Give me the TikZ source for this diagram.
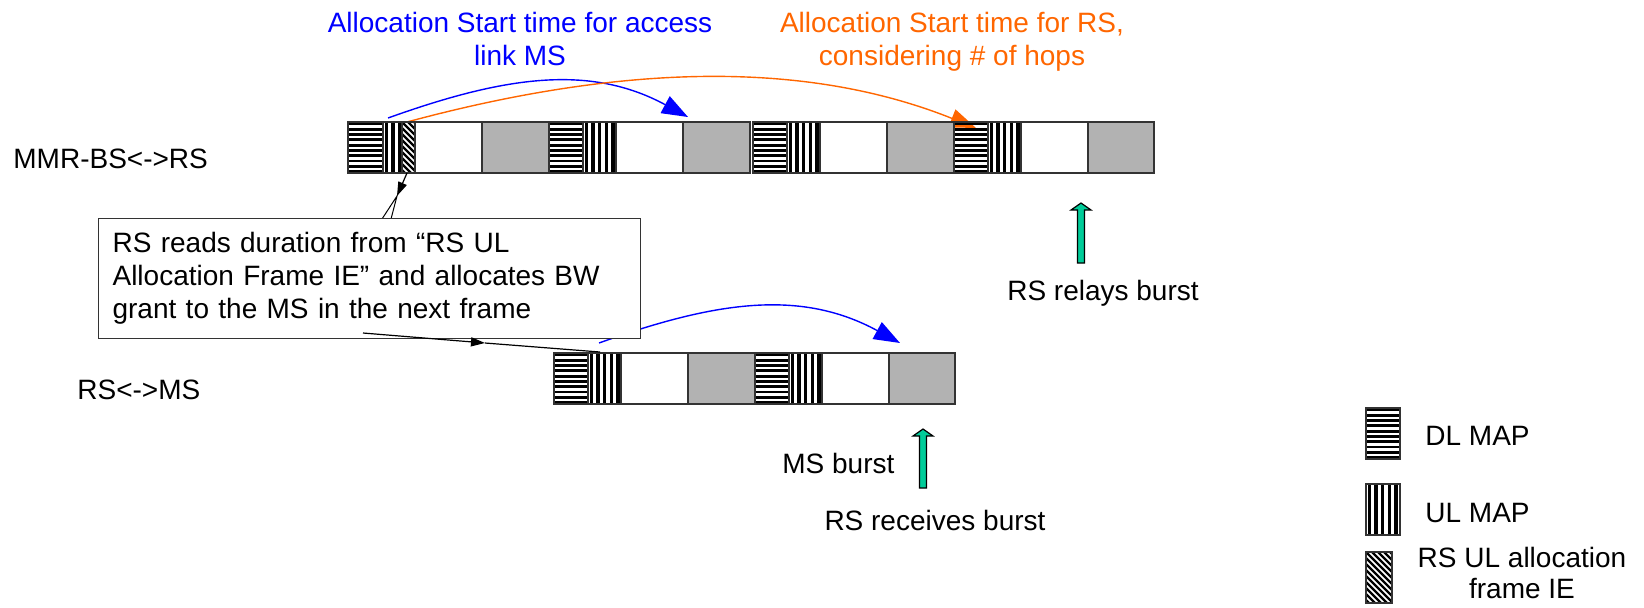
\documentclass[tikz,border=0pt]{standalone}
\usepackage{fontspec}
\setmainfont{Liberation Sans}
\usetikzlibrary{arrows.meta}

\definecolor{slotgray}{RGB}{178,178,178}
\definecolor{burstgreen}{RGB}{0,204,153}
\definecolor{hopsorange}{RGB}{255,102,0}

\tikzset{
  slot/.style={draw=black!80, line width=0.6pt},
  lbl/.style={font=\fontsize{14}{16.5}\selectfont, inner sep=0pt},
  msarc/.style={blue, line width=0.7pt, -{Triangle[length=13pt,width=9.5pt]}},
  rsarc/.style={hopsorange, line width=0.7pt, -{Triangle[length=13pt,width=9.5pt]}},
  ptr/.style={black, line width=0.6pt, -{Triangle[length=7pt,width=4.5pt]}},
  burst/.style={draw=black, line width=0.6pt, fill=burstgreen}
}

% striped slots: left x, top y, width (height 51)
\newcommand{\dlslot}[3]{%
  \begin{scope}
    \clip (#1,#2) rectangle ++(#3,51);
    \foreach \k in {0,...,9} \fill (#1,#2+0.5+\k*5.3) rectangle ++(#3,2.8);
  \end{scope}
  \draw[slot] (#1,#2) rectangle ++(#3,51);
}
\newcommand{\ulslot}[3]{%
  \begin{scope}
    \clip (#1,#2) rectangle ++(#3,51);
    \foreach \k in {0,...,5} \fill (#1+1.5+\k*6.7,#2) rectangle ++(3.3,51);
  \end{scope}
  \draw[slot] (#1,#2) rectangle ++(#3,51);
}
\newcommand{\ieslot}[3]{%
  \begin{scope}
    \clip (#1,#2) rectangle ++(#3,51);
    \foreach \k in {-10,...,5} \draw[line width=1.1pt] (#1+\k*6,#2) -- ++(60,60);
  \end{scope}
  \draw[slot] (#1,#2) rectangle ++(#3,51);
}
% one frame: DL, UL, idle, busy, DL, UL, idle, busy
\newcommand{\frameslots}[2]{%
  \dlslot{#1}{#2}{34} \ulslot{#1+34}{#2}{33}
  \draw[slot, fill=white] (#1+67,#2) rectangle ++(67,51);
  \draw[slot, fill=slotgray] (#1+134,#2) rectangle ++(67,51);
  \dlslot{#1+201}{#2}{34} \ulslot{#1+235}{#2}{33}
  \draw[slot, fill=white] (#1+268,#2) rectangle ++(67,51);
  \draw[slot, fill=slotgray] (#1+335,#2) rectangle ++(66,51);
}
% green burst arrow: centre x, tip y, tail y
\newcommand{\burstarrow}[3]{%
  \draw[burst] (#1-3.5,#3) -- (#1-3.5,#2+7) -- (#1-10,#2+7) -- (#1,#2)
    -- (#1+10,#2+7) -- (#1+3.5,#2+7) -- (#1+3.5,#3) -- cycle;
}

\begin{document}
\begin{tikzpicture}[x=0.5pt, y=-0.5pt]
\useasboundingbox (0,0) rectangle (1644,607);

% connector ends
\coordinate (msStart) at (388,118);
\coordinate (msEnd) at (688,117);
\coordinate (rsStart) at (407,122);
\coordinate (rsEnd) at (976,128);
\coordinate (accStart) at (599,343);
\coordinate (accEnd) at (900,343);
\coordinate (ieBottom) at (407,173);
\coordinate (callTip) at (397,196);
\coordinate (wedgeL) at (382,219);
\coordinate (wedgeR) at (391,219);
\coordinate (boxOut) at (363,333);
\coordinate (boxMid) at (485,343);
\coordinate (rsmsIn) at (600,352);

% allocation start arcs (under the frames)
\draw[msarc] (msStart) .. controls (505,76) and (590,64) .. (msEnd);
\draw[rsarc] (rsStart) .. controls (607,68) and (796,56) .. (rsEnd);
\draw[msarc] (accStart) .. controls (716,301) and (801,289) .. (accEnd);

% MMR-BS <-> RS frames
\dlslot{348}{122}{35} \ulslot{383}{122}{19} \ieslot{402}{122}{13}
\draw[slot, fill=white] (415,122) rectangle ++(67,51);
\draw[slot, fill=slotgray] (482,122) rectangle ++(67,51);
\dlslot{549}{122}{34} \ulslot{583}{122}{33}
\draw[slot, fill=white] (616,122) rectangle ++(67,51);
\draw[slot, fill=slotgray] (683,122) rectangle ++(67,51);
\frameslots{753}{122}
% RS <-> MS frame
\frameslots{554}{353}

% titles and link names
\node[lbl, blue, anchor=north, align=center] (msTitle) at (520,12) {Allocation Start time for access\\link MS};
\node[lbl, hopsorange, anchor=north, align=center] (rsTitle) at (952,12) {Allocation Start time for RS,\\considering \# of hops};
\node[lbl, anchor=base west] (bsLink) at (13,168) {MMR-BS<->RS};
\node[lbl, anchor=base west] (msLink) at (77,399) {RS<->MS};

% callout
\draw[line width=0.5pt, fill=white] (wedgeL) -- (callTip) -- (wedgeR);
\node[lbl, draw=black!80, line width=0.6pt, fill=white, anchor=north west, align=left,
  text width=257pt, inner xsep=7pt, inner ysep=7pt] (note) at (98,218)
  {RS reads duration from “RS UL\\Allocation Frame IE” and allocates BW\\grant to the MS in the next frame};
\draw[ptr] (ieBottom) -- (callTip);
\draw[ptr] (boxOut) -- (boxMid);
\draw[line width=0.6pt] (boxMid) -- (rsmsIn);

% bursts
\burstarrow{1081}{203}{263}
\burstarrow{923}{429}{488}
\node[lbl, anchor=base] (relayTxt) at (1103,300) {RS relays burst};
\node[lbl, anchor=base west] (msBurstTxt) at (782,473) {MS burst};
\node[lbl, anchor=base] (recvTxt) at (935,530) {RS receives burst};

% legend
\dlslot{1366}{408}{34} \ulslot{1366}{484}{34} \ieslot{1366}{552}{26}
\node[lbl, anchor=base west] (dlKey) at (1425,445) {DL MAP};
\node[lbl, anchor=base west] (ulKey) at (1425,522) {UL MAP};
\node[lbl, anchor=north, align=center, font=\fontsize{14}{15.5}\selectfont] (ieKey) at (1522,547) {RS UL allocation\\frame IE};
\end{tikzpicture}
\end{document}
